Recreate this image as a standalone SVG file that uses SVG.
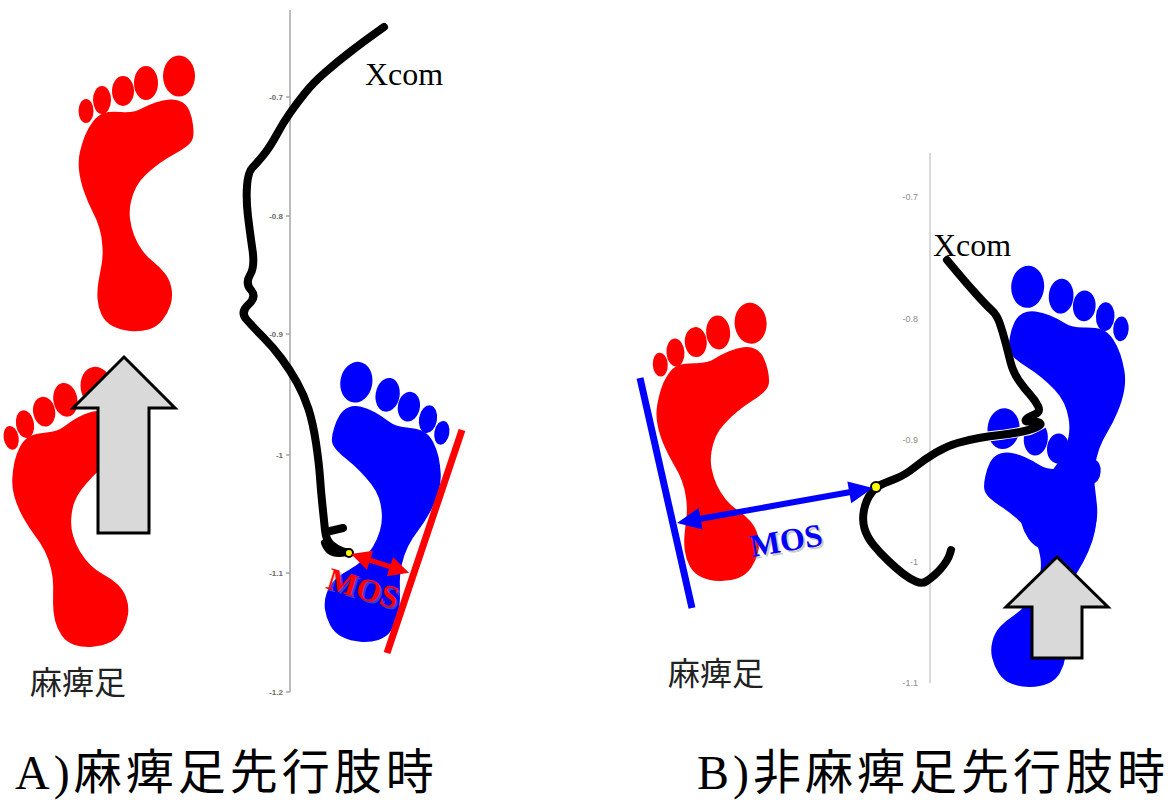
<svg xmlns="http://www.w3.org/2000/svg" xmlns:xlink="http://www.w3.org/1999/xlink" width="1170" height="800" viewBox="0 0 1170 800">
  <style>
    .axisA { stroke: #a6a6a6; stroke-width: 1.5; fill: none; }
    .axisB { stroke: #d9d9d9; stroke-width: 2; fill: none; }
    .tickA { font-family: "Liberation Sans", Arial, sans-serif; font-size: 8px; font-weight: bold; fill: #6b6b6b; text-anchor: end; }
    .tickB { font-family: "Liberation Sans", Arial, sans-serif; font-size: 9px; fill: #8c8c8c; text-anchor: end; }
    .track { fill: none; stroke: #000; stroke-width: 8; stroke-linecap: round; stroke-linejoin: round; }
    .halo { fill: none; stroke: #fff; stroke-width: 10; stroke-linecap: round; stroke-linejoin: round; }
    .dot { fill: #ffff00; stroke: #000; stroke-width: 2; }
    .xcom { font-family: "Liberation Serif", "Times New Roman", serif; font-size: 32px; fill: #000; }
    .mos { font-family: "Liberation Serif", "Times New Roman", serif; font-size: 32px; font-weight: bold; }
    .shadow { fill: #888; opacity: 0.45; }
    .label { font-family: "Liberation Serif", "Noto Sans CJK JP", serif; font-size: 32px; fill: #222; }
    .title { font-family: "Liberation Serif", "Noto Sans CJK JP", serif; font-size: 48px; letter-spacing: 4px; fill: #000; }
    .walk { fill: #d9d9d9; stroke: #000; stroke-width: 3; stroke-linejoin: miter; }
  </style>
  <defs>
    <!-- footprint drawn around its own centre; toes on top, arch on the right -->
    <g id="foot">
      <path d="M-31,-82 Q-25,-84 -13.5,-83 Q-2,-82 5.5,-86 Q13,-90 20.5,-92.5 Q28,-95 35,-95.5 Q42,-96 47,-93 Q52,-90 54.5,-84 Q57,-78 58,-70 Q59,-62 58,-57.5 Q57,-53 52,-49 Q47,-45 39.5,-41 Q32,-37 25,-32 Q18,-27 11.5,-21 Q5,-15 1.5,-8.5 Q-2,-2 -4,6.5 Q-6,15 -5,23.5 Q-4,32 -1,40 Q2,48 7,55 Q12,62 18.5,67 Q25,72 30,78.5 Q35,85 36.5,93.5 Q38,102 35.5,110 Q33,118 27.5,125 Q22,132 13.5,134.5 Q5,137 -5,136 Q-15,135 -22.5,131 Q-30,127 -33.5,119.5 Q-37,112 -37.5,103.5 Q-38,95 -36.5,86.5 Q-35,78 -33.5,70 Q-32,62 -32.5,52 Q-33,42 -35.5,33.5 Q-38,25 -42.5,16.5 Q-47,8 -51,-3.5 Q-55,-15 -56,-25 Q-57,-35 -55,-43.5 Q-53,-52 -50,-59.5 Q-47,-67 -42,-73.5 Q-37,-80 -31,-82 Z"/>
      <ellipse cx="-49" cy="-84" rx="7.5" ry="12"/>
      <ellipse cx="-33" cy="-95" rx="9" ry="14"/>
      <ellipse cx="-12" cy="-104" rx="11" ry="15"/>
      <ellipse cx="11" cy="-112" rx="12" ry="17"/>
      <ellipse cx="44" cy="-119" rx="16" ry="20.5"/>
    </g>
  </defs>

  <rect width="1170" height="800" fill="#fff"/>

  <!-- chart axes -->
  <g id="axis-a">
    <line class="axisA" x1="290" y1="10" x2="290" y2="692"/>
    <g class="axisA">
      <line x1="286" y1="97" x2="290" y2="97"/>
      <line x1="286" y1="216" x2="290" y2="216"/>
      <line x1="286" y1="334" x2="290" y2="334"/>
      <line x1="286" y1="455" x2="290" y2="455"/>
      <line x1="286" y1="573" x2="290" y2="573"/>
      <line x1="286" y1="692" x2="290" y2="692"/>
    </g>
    <text class="tickA" x="283" y="100">-0.7</text>
    <text class="tickA" x="283" y="219">-0.8</text>
    <text class="tickA" x="283" y="337">-0.9</text>
    <text class="tickA" x="283" y="458">-1</text>
    <text class="tickA" x="283" y="576">-1.1</text>
    <text class="tickA" x="283" y="695">-1.2</text>
  </g>
  <g id="axis-b">
    <line class="axisB" x1="930" y1="153" x2="930" y2="683"/>
    <text class="tickB" x="918" y="200">-0.7</text>
    <text class="tickB" x="918" y="322">-0.8</text>
    <text class="tickB" x="918" y="443">-0.9</text>
    <text class="tickB" x="918" y="565">-1</text>
    <text class="tickB" x="918" y="686">-1.1</text>
  </g>

  <!-- panel A feet -->
  <g id="foot-a-front" fill="#ff0000">
    <use xlink:href="#foot" transform="translate(135,195)"/>
  </g>
  <g id="foot-a-rear" fill="#ff0000">
    <use xlink:href="#foot" transform="translate(74,512) rotate(-10)"/>
  </g>
  <g id="foot-a-blue" fill="#0000ff">
    <use xlink:href="#foot" transform="translate(379,507) rotate(10) scale(-1,1)"/>
  </g>

  <!-- panel B feet -->
  <g id="foot-b-red" fill="#ff0000">
    <use xlink:href="#foot" transform="translate(715,445) rotate(-4)"/>
  </g>
  <g id="foot-b-blue-front" fill="#0000ff">
    <use xlink:href="#foot" transform="translate(1065,412) rotate(3.7) scale(-1.03,1.03)"/>
  </g>
  <g id="foot-b-blue-rear" fill="#0000ff">
    <use xlink:href="#foot" transform="translate(1037,551) rotate(5) scale(-1,1)"/>
  </g>

  <!-- stability boundary lines -->
  <g id="boundary-a">
    <line x1="462" y1="430" x2="387" y2="653" stroke="#ff0000" stroke-width="7"/>
  </g>
  <g id="boundary-b">
    <line x1="640" y1="378" x2="692" y2="608" stroke="#0000ff" stroke-width="7"/>
  </g>

  <!-- walking direction arrows -->
  <g id="walk-a">
    <polygon class="walk" points="124,357 175,408 149,408 149,533 98,533 98,408 73,408"/>
  </g>

  <g id="connectors">
    <!-- Xcom trajectory, panel A -->
    <path class="track" d="M384,27 L373.5,34.5 Q363,42 350,52 Q337,62 325,72.5 Q313,83 305,93 Q297,103 290,113 Q283,123 276.5,135 Q270,147 263.5,155 Q257,163 252.5,167.5 Q248,172 247,186 Q246,200 248,216.5 Q250,233 252.5,250 Q255,267 250,275 Q245,283 251,290 Q257,297 248.5,304.5 Q240,312 246.5,319.5 Q253,327 263,337 Q273,347 281.5,358.5 Q290,370 297,382.5 Q304,395 308.5,409 Q313,423 316,443 Q319,463 320,477.5 Q321,492 322.5,506 Q324,520 325,530 Q326,540 331,544.5 Q336,549 342,551 L348,553"/>
    <path class="track" d="M326,532 L343,528"/>
    <path class="track" d="M325,543 Q330,556 346,552"/>
    <circle class="dot" cx="349" cy="553" r="4"/>

    <!-- Xcom trajectory, panel B -->
    <path class="halo" d="M1042,424 Q1036,427.5 1030,430 Q1010,434 1000,435 Q990,436 979,438 Q968,440 957.5,443"/>
    <path class="track" d="M947,260 L957,272 Q967,284 977,295 Q987,306 992,310.5 Q997,315 1000,324 Q1003,333 1005.5,342.5 Q1008,352 1010.5,362 Q1013,372 1018.5,380 Q1024,388 1029.5,394 Q1035,400 1038,406 Q1041,412 1034.5,414.5 Q1028,417 1026,419.5 Q1024,422 1031,421.5 Q1038,421 1040,423 Q1042,425 1036,427.5 Q1030,430 1020,432 Q1010,434 1000,435 Q990,436 979,438 Q968,440 957.5,443 Q947,446 936,452.5 Q925,459 915,467 Q905,475 896,478.5 Q887,482 881.5,484.5 L876,487"/>
    <path class="track" d="M876,487 L871,493.5 Q866,500 864,510 Q862,520 864.5,528.5 Q867,537 873.5,545 Q880,553 888.5,561 Q897,569 903.5,574 Q910,579 916,581.5 Q922,584 926,581.5 Q930,579 934,575.5 Q938,572 941,568.5 Q944,565 946.5,561 Q949,557 950,553.5 L951,550"/>
    <circle class="dot" cx="876" cy="487" r="5"/>

    <!-- margin of stability arrows -->
    <polygon fill="#ff0000" transform="translate(351,554) rotate(18)" points="0,0 20,-10 20,-2.5 41,-2.5 41,-10 61,0 41,10 41,2.5 20,2.5 20,10"/>
    <polygon fill="#0000ff" transform="translate(677,523) rotate(-10.1)" points="0,0 24,-11 24,-3 175,-3 175,-11 199,0 175,11 175,3 24,3 24,11"/>
  </g>

  <g id="walk-b">
    <polygon class="walk" points="1057,557 1108,607 1082,607 1082,658 1032,658 1032,607 1006,607"/>
  </g>

  <!-- labels -->
  <g id="mos-a">
    <text class="mos shadow" transform="translate(327,590) rotate(17)">MOS</text>
    <text class="mos" fill="#ff0000" transform="translate(325,588) rotate(17)">MOS</text>
  </g>
  <g id="mos-b">
    <text class="mos shadow" transform="translate(754,559) rotate(-9.5)">MOS</text>
    <text class="mos" fill="#0000ff" transform="translate(752,557) rotate(-9.5)">MOS</text>
  </g>
  <g id="xcom-a"><text class="xcom" x="365" y="85">Xcom</text></g>
  <g id="xcom-b"><text class="xcom" x="933" y="256">Xcom</text></g>
  <g id="label-a"><text class="label" x="30" y="694">麻痺足</text></g>
  <g id="label-b"><text class="label" x="668" y="685">麻痺足</text></g>
  <g id="title-a"><text class="title" x="15" y="789">A)麻痺足先行肢時</text></g>
  <g id="title-b"><text class="title" x="697" y="789">B)非麻痺足先行肢時</text></g>
</svg>
